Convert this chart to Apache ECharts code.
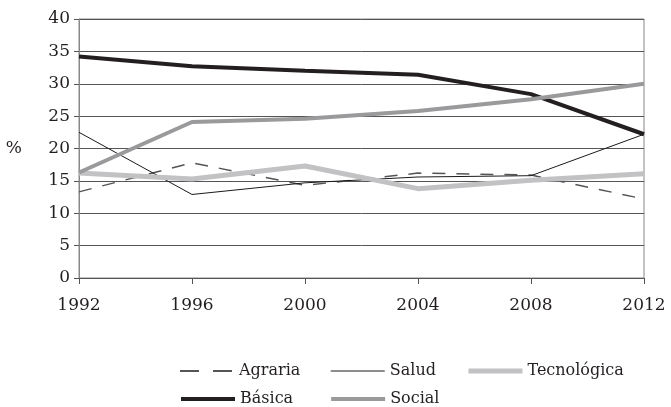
<!DOCTYPE html>
<html>
<head>
<meta charset="utf-8">
<script src="https://cdn.jsdelivr.net/npm/echarts@6/dist/echarts.min.js"></script>
<style>
  html, body { margin: 0; padding: 0; background: #fff; }
  #chart { width: 671px; height: 407px; }
</style>
</head>
<body>
<div id="chart"></div>
<script>
  // años
  const years = ['1992', '1996', '2000', '2004', '2008', '2012'];
  // porcentajes por área
  const agraria = [13.3, 17.8, 14.3, 16.2, 15.9, 12.2];
  const salud = [22.5, 12.9, 14.7, 15.6, 15.8, 22.2];
  const tecnologica = [16.2, 15.3, 17.3, 13.8, 15.1, 16.1];
  const basica = [34.2, 32.7, 32.0, 31.4, 28.4, 22.2];
  const social = [16.3, 24.1, 24.6, 25.8, 27.6, 30.0];

  const font = 'DejaVu Serif';
  const chart = echarts.init(document.getElementById('chart'));

  function line(name, data, color, width, type) {
    return {
      name: name,
      type: 'line',
      data: data,
      symbol: 'none',
      color: color,
      lineStyle: { color: color, width: width, type: type || 'solid' },
      emphasis: { disabled: true }
    };
  }

  const legendText = { fontFamily: font, fontSize: 16, color: '#231f20' };
  // el símbolo de la leyenda se oculta, solo queda la línea
  const hideSymbol = { opacity: 0 };

  chart.setOption({
    animation: false,
    grid: {
      left: 79, right: 27, top: 19, bottom: 129,
      show: true, borderColor: '#888', borderWidth: 1
    },
    legend: [
      {
        data: [
          { name: 'Agraria', lineStyle: { width: 2, type: [19, 14] } },
          { name: 'Salud', lineStyle: { width: 1 } },
          { name: 'Tecnológica', lineStyle: { width: 5 } }
        ],
        left: 174, top: 358,
        itemWidth: 54, itemHeight: 14, itemGap: 30,
        itemStyle: hideSymbol,
        textStyle: legendText
      },
      {
        data: [
          { name: 'Básica', lineStyle: { width: 4 } },
          { name: 'Social', lineStyle: { width: 4 } }
        ],
        left: 174, top: 386,
        itemWidth: 54, itemHeight: 14, itemGap: 36,
        itemStyle: hideSymbol,
        textStyle: legendText
      }
    ],
    xAxis: {
      type: 'category',
      data: years,
      boundaryGap: false,
      axisLine: { lineStyle: { color: '#555' } },
      axisTick: { show: true, length: 6, alignWithLabel: true, lineStyle: { color: '#555' } },
      axisLabel: { fontFamily: font, fontSize: 17, color: '#231f20', margin: 19 },
      splitLine: { show: false }
    },
    yAxis: {
      type: 'value',
      min: 0, max: 40, interval: 5,
      name: '%',
      nameLocation: 'middle',
      nameRotate: 0,
      nameGap: 57,
      nameTextStyle: { fontFamily: font, fontSize: 17, color: '#231f20' },
      axisLine: { show: true, lineStyle: { color: '#888' } },
      axisTick: { show: true, length: 5, lineStyle: { color: '#555' } },
      axisLabel: { fontFamily: font, fontSize: 17, color: '#231f20', margin: 9 },
      splitLine: { lineStyle: { color: '#555', width: 1 } }
    },
    series: [
      line('Agraria', agraria, '#555555', 1.5, [13, 11]),
      line('Salud', salud, '#1a1a1a', 1),
      line('Tecnológica', tecnologica, '#c2c2c4', 5),
      line('Básica', basica, '#231f20', 4),
      line('Social', social, '#9a9a9c', 4)
    ]
  });
</script>
</body>
</html>
